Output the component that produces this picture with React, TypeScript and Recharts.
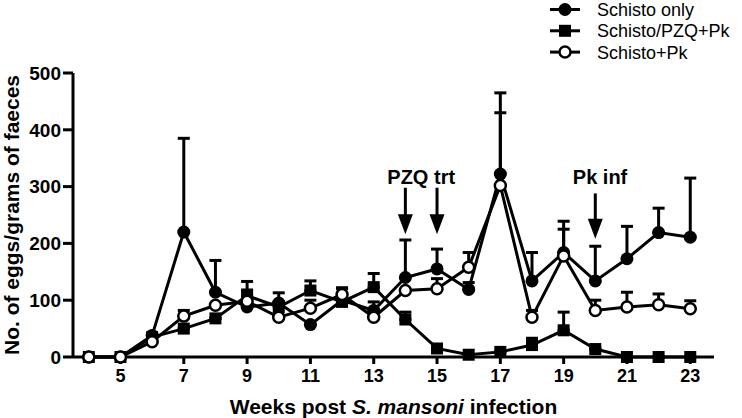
import {
  ErrorBar,
  Legend,
  Line,
  LineChart,
  ReferenceDot,
  ReferenceLine,
  XAxis,
  YAxis,
} from "recharts";

const weeks = [4, 5, 6, 7, 8, 9, 10, 11, 12, 13, 14, 15, 16, 17, 18, 19, 20, 21, 22, 23];

const schistoOnly = [0, 0, 38, 220, 114, 88, 95, 57, 100, 82, 140, 155, 119, 322, 134, 184, 134, 173, 219, 211];
const schistoOnlyErr = [0, 0, 0, 165, 56, 45, 18, 0, 0, 15, 66, 35, 12, 143, 50, 55, 61, 57, 43, 104];

const pzqPk = [0, 0, 35, 50, 68, 108, 88, 117, 97, 123, 66, 15, 4, 9, 21, 47, 14, 0, 0, 0];
const pzqPkErr = [0, 0, 0, 0, 0, 10, 9, 17, 25, 24, 13, 0, 0, 0, 12, 32, 0, 0, 0, 0];

const schistoPk = [0, 0, 27, 72, 91, 98, 70, 86, 110, 70, 117, 120, 158, 302, 70, 178, 82, 88, 92, 85];
const schistoPkErr = [0, 0, 0, 10, 0, 0, 0, 14, 10, 0, 0, 18, 26, 128, 12, 47, 18, 26, 19, 14];

const xTicks = [5, 7, 9, 11, 13, 15, 17, 19, 21, 23];
const yTicks = [0, 100, 200, 300, 400, 500];

// treatment arrows: week, top value, tip value
const arrows = [
  { week: 14, from: 298, to: 216 },
  { week: 15, from: 298, to: 216 },
  { week: 20, from: 288, to: 208 },
];
const notes = [
  { week: 14.5, value: 305, text: "PZQ trt" },
  { week: 20.15, value: 304, text: "Pk inf" },
];

const series = [
  { key: "schistoOnly", name: "Schisto only", marker: "circle" },
  { key: "pzqPk", name: "Schisto/PZQ+Pk", marker: "square" },
  { key: "schistoPk", name: "Schisto+Pk", marker: "open" },
];

const data = weeks.map((week, i) => ({
  week,
  schistoOnly: schistoOnly[i],
  schistoOnlyErr: [0, schistoOnlyErr[i]],
  pzqPk: pzqPk[i],
  pzqPkErr: [0, pzqPkErr[i]],
  schistoPk: schistoPk[i],
  schistoPkErr: [0, schistoPkErr[i]],
}));

const FONT = '"Liberation Sans", Arial, Helvetica, sans-serif';

function Marker({ kind, cx, cy }: { kind: string; cx: number; cy: number }) {
  if (kind === "square")
    return <rect x={cx - 6} y={cy - 6} width={12} height={12} fill="#000" />;
  if (kind === "open")
    return <circle cx={cx} cy={cy} r={5.5} fill="#fff" stroke="#000" strokeWidth={2.5} />;
  return <circle cx={cx} cy={cy} r={6.5} fill="#000" />;
}

const arrowShape = (props: any) => {
  const { x1, y1, x2, y2 } = props;
  const head = 20;
  const half = 7.5;
  return (
    <g>
      <line x1={x1} y1={y1} x2={x2} y2={y2 - head + 1} stroke="#000" strokeWidth={3} />
      <polygon
        points={`${x2 - half},${y2 - head} ${x2 + half},${y2 - head} ${x2},${y2}`}
        fill="#000"
      />
    </g>
  );
};

function LegendBox() {
  return (
    <svg width={194} height={64}>
      {series.map((s, i) => {
        const y = 9.5 + i * 21.3;
        return (
          <g key={s.key}>
            <line x1={2} y1={y} x2={32} y2={y} stroke="#000" strokeWidth={3} />
            <Marker kind={s.marker} cx={17} cy={y} />
            <text x={49} y={y + 6.5} fontSize={18} fontFamily={FONT} fill="#000">
              {s.name}
            </text>
          </g>
        );
      })}
    </svg>
  );
}

export default function App() {
  return (
    <div style={{ position: "absolute", left: 0, top: 0, width: 742, height: 418, background: "#fff" }}>
      <LineChart
        width={742}
        height={418}
        data={data}
        margin={{ top: 73, right: 28, bottom: 0, left: 0 }}
      >
        <XAxis
          type="number"
          dataKey="week"
          height={61}
          domain={[3.5, 23.75]}
          ticks={xTicks}
          interval={0}
          tickSize={7}
          tickMargin={5}
          axisLine={{ stroke: "#000", strokeWidth: 3 }}
          tickLine={{ stroke: "#000", strokeWidth: 3 }}
          tick={{ fill: "#000", fontSize: 18, fontWeight: "bold", fontFamily: FONT }}
          label={(props: any) => {
            const vb = props.viewBox;
            return (
              <text
                x={vb.x + vb.width / 2}
                y={414}
                textAnchor="middle"
                fontSize={21}
                fontWeight="bold"
                fontFamily={FONT}
                fill="#000"
              >
                Weeks post <tspan fontStyle="italic">S. mansoni</tspan> infection
              </text>
            );
          }}
        />
        <YAxis
          width={73}
          domain={[0, 500]}
          ticks={yTicks}
          interval={0}
          tickSize={10}
          tickMargin={2}
          axisLine={{ stroke: "#000", strokeWidth: 3 }}
          tickLine={{ stroke: "#000", strokeWidth: 3 }}
          tick={{ fill: "#000", fontSize: 19, fontWeight: "bold", fontFamily: FONT }}
          label={(props: any) => {
            const vb = props.viewBox;
            const cy = vb.y + vb.height / 2;
            return (
              <text
                x={19}
                y={cy}
                transform={`rotate(-90, 19, ${cy})`}
                textAnchor="middle"
                fontSize={21}
                fontWeight="bold"
                fontFamily={FONT}
                fill="#000"
              >
                No. of eggs/grams of faeces
              </text>
            );
          }}
        />
        <Legend
          layout="vertical"
          align="center"
          verticalAlign="middle"
          wrapperStyle={{ left: 548, top: 0, width: 194, height: 64 }}
          content={() => <LegendBox />}
        />
        {arrows.map((a, i) => (
          <ReferenceLine
            key={`arrow-${i}`}
            segment={[
              { x: a.week, y: a.from },
              { x: a.week, y: a.to },
            ]}
            shape={arrowShape}
          />
        ))}
        {notes.map((n) => (
          <ReferenceDot
            key={n.text}
            x={n.week}
            y={n.value}
            r={0}
            shape={(p: any) => (
              <text
                x={p.cx}
                y={p.cy}
                textAnchor="middle"
                fontSize={20}
                fontWeight="bold"
                fontFamily={FONT}
                fill="#000"
              >
                {n.text}
              </text>
            )}
          />
        ))}
        {series.map((s) => (
          <Line
            key={s.key}
            type="linear"
            dataKey={s.key}
            name={s.name}
            stroke="#000"
            strokeWidth={3}
            isAnimationActive={false}
            dot={(p: any) => <Marker key={`${s.key}-${p.index}`} kind={s.marker} cx={p.cx} cy={p.cy} />}
            activeDot={false}
          >
            <ErrorBar
              dataKey={`${s.key}Err`}
              direction="y"
              width={6}
              stroke="#000"
              strokeWidth={3}
              isAnimationActive={false}
            />
          </Line>
        ))}
      </LineChart>
    </div>
  );
}
